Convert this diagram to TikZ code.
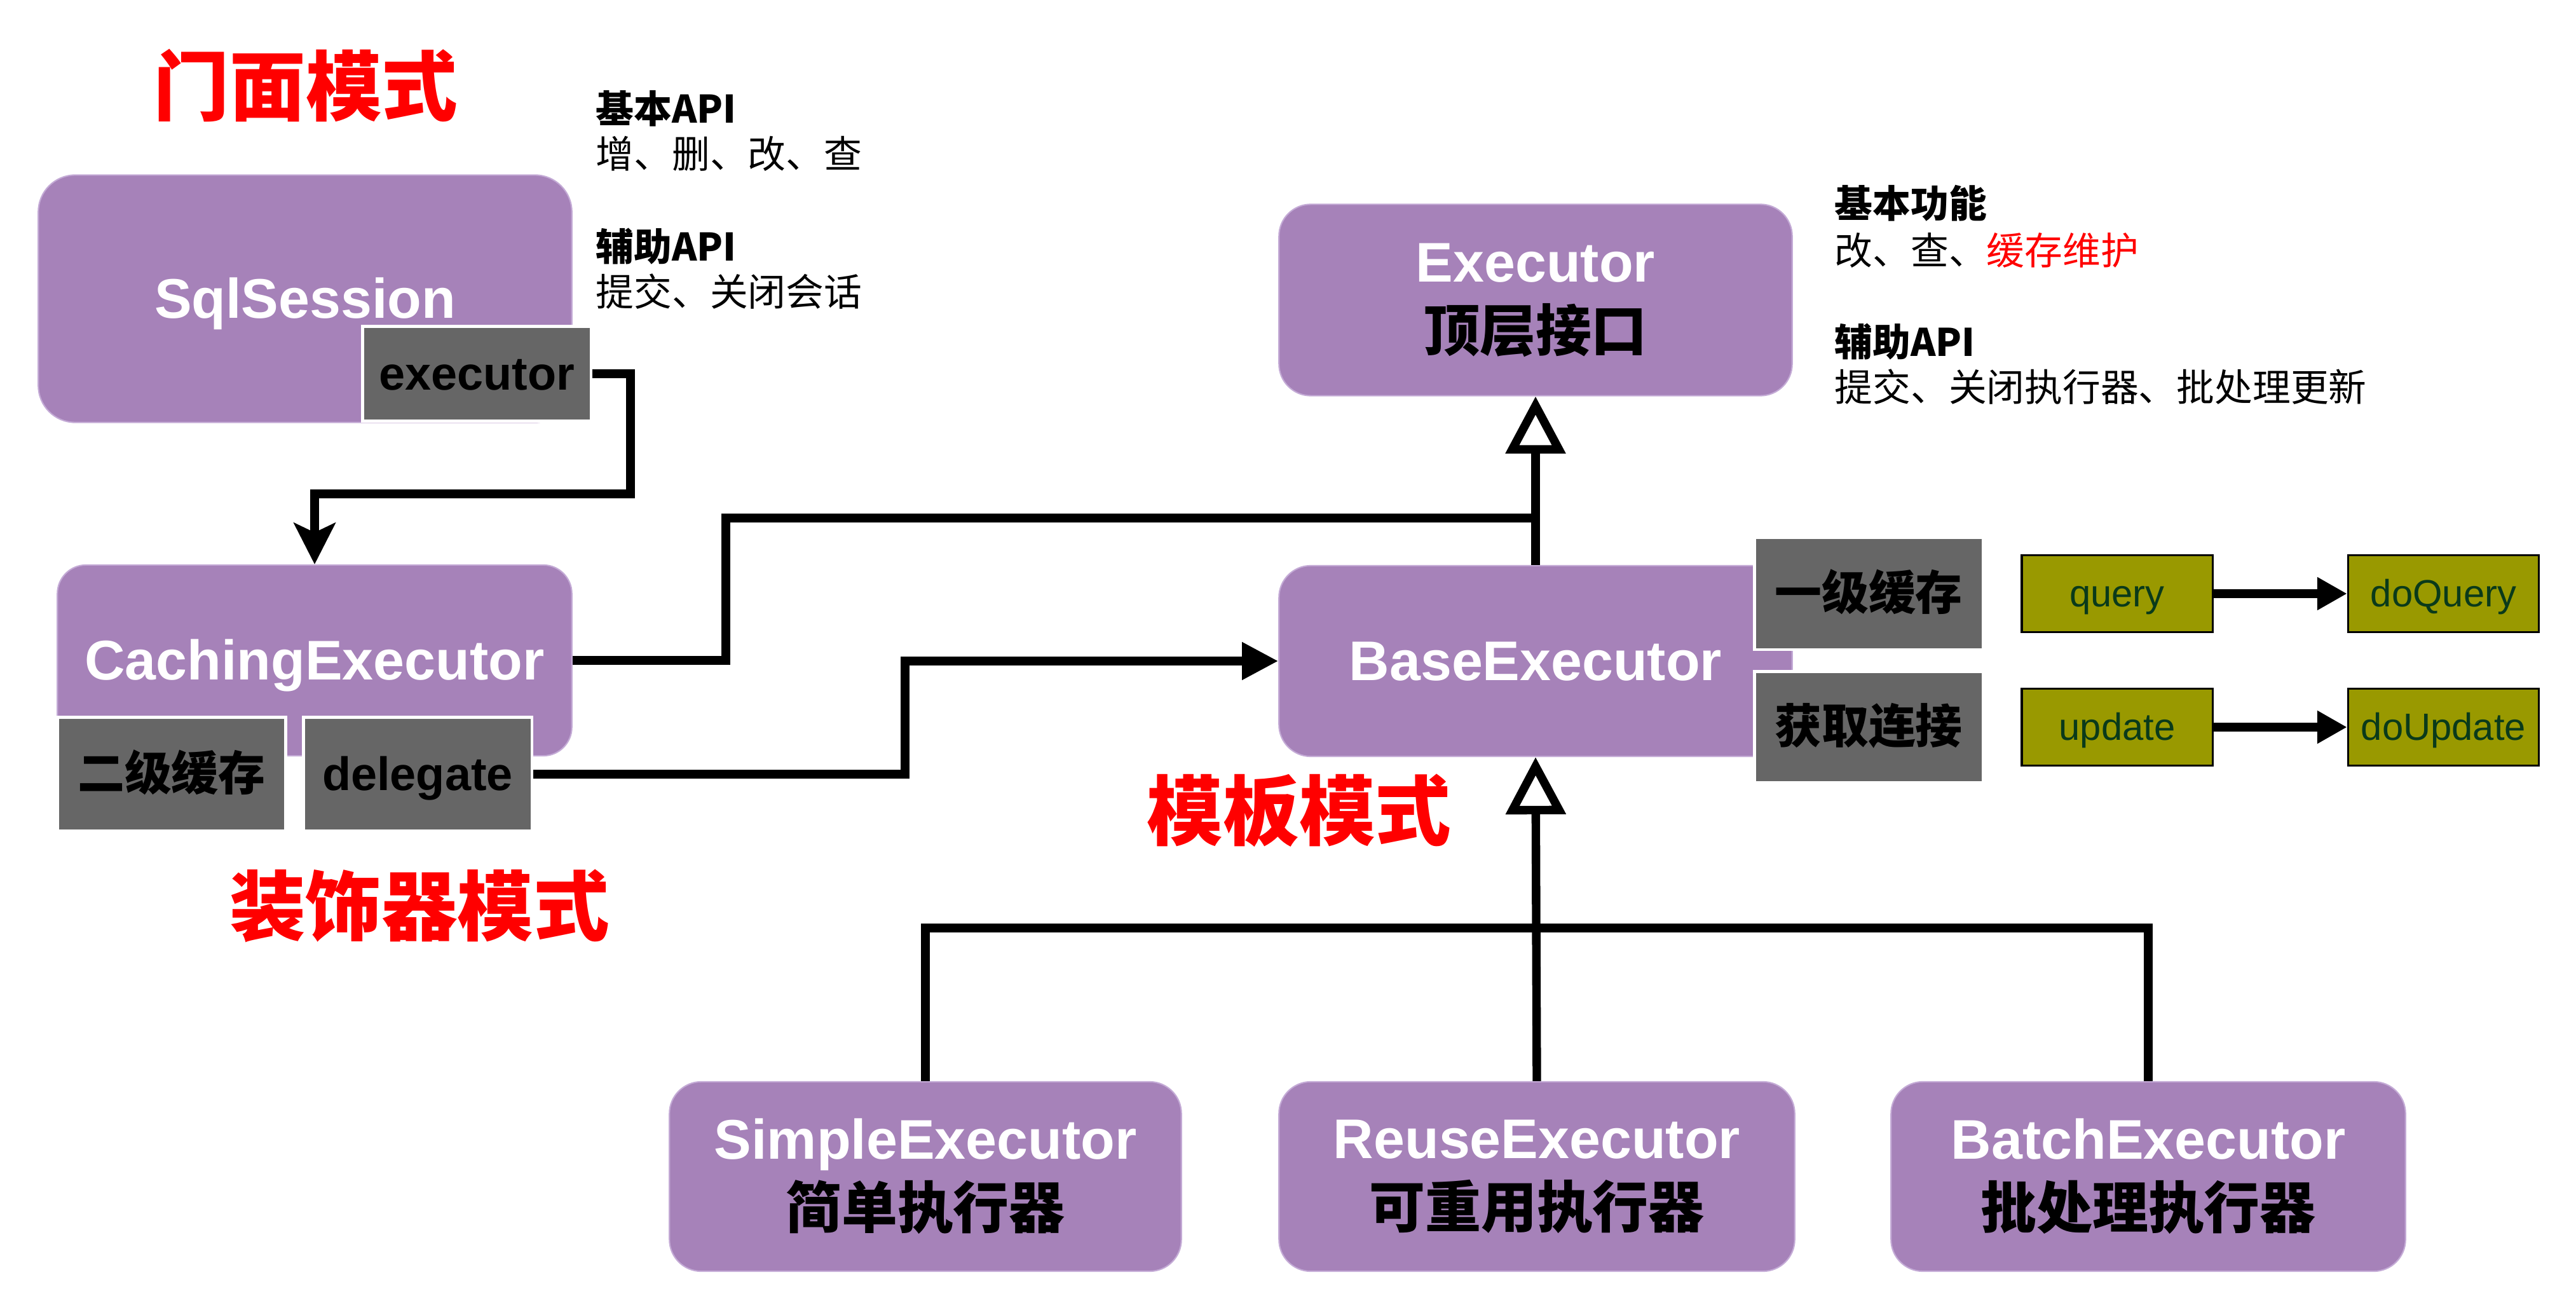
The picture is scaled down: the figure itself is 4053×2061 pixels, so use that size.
\documentclass[tikz,border=0pt]{standalone}
\usepackage{fontspec}
\setmainfont{Liberation Sans}
\newfontfamily\cjk{Noto Sans CJK SC}
\usetikzlibrary{positioning,arrows.meta}
\definecolor{boxpurple}{HTML}{A682B9}
\definecolor{boxedge}{HTML}{C4ABD6}
\definecolor{cachegray}{HTML}{666666}
\definecolor{methodolive}{HTML}{999900}
\definecolor{methodtext}{HTML}{0A3A1A}
\tikzset{
  purple box/.style={
    fill=boxpurple,
    draw=boxedge,
    line width=0.6pt,
    rounded corners=0.5cm,
    minimum width={#1},
    minimum height=3cm,
    align=center,
    text=white,
    font=\fontsize{25}{31}\selectfont\bfseries,
  },
  one line/.style={
    text height=22.5pt,
    text depth=5pt,
  },
  gray box/.style={
    text height=18.9pt,
    text depth=4.2pt,
    fill=cachegray,
    draw=white,
    line width=1.2pt,
    minimum width=3.59cm,
    minimum height={#1},
    font=\fontsize{21}{25}\selectfont\bfseries,
  },
  olive box/.style={
    text height=15.3pt,
    text depth=3.6pt,
    fill=methodolive,
    draw=black,
    line width=0.9pt,
    minimum width=3cm,
    minimum height=1.21cm,
    text=methodtext,
    font=\fontsize{17}{20}\selectfont,
  },
  pattern/.style={
    text=red,
    font=\fontsize{34}{40}\selectfont\cjk\bfseries,
  },
  note/.style={
    anchor=west,
    inner sep=0pt,
    font=\fontsize{17}{20}\selectfont\cjk,
  },
  link/.style={line width=3.8pt},
  flow/.style={link, -{Triangle[length=0.57cm,width=0.56cm]}},
  inherit/.style={link, -{Triangle[open,length=0.9cm,width=0.92cm]}},
}

\begin{document}
\begin{tikzpicture}[x=0.01cm, y=-0.01cm]
        \useasboundingbox (0,0) rectangle (4053,2061);

        % facade
        \node [pattern] (facade) at (481,135) {门面模式};
        \node [purple box=8.39cm, one line, minimum height=3.89cm, rounded corners=0.58cm] (session) at (480,470) {SqlSession};
        \node [gray box=1.49cm] (exec) at (750,588) {executor};
        \node [note, font=\fontsize{17}{20}\selectfont\cjk\bfseries] (sbasic) at (937,171) {基本API};
        \node [note] (scrud) at (937,242) {增、删、改、查};
        \node [note, font=\fontsize{17}{20}\selectfont\cjk\bfseries] (shelp) at (937,388) {辅助API};
        \node [note] (sclose) at (937,459) {提交、关闭会话};

        % decorator
        \node [purple box=8.09cm, one line, rounded corners=0.45cm] (caching) at (495,1039) {CachingExecutor};
        \node [gray box=1.79cm, font=\fontsize{21}{25}\selectfont\cjk\bfseries] (l2cache) at (270,1218) {二级缓存};
        \node [gray box=1.79cm] (delegate) at (657,1218) {delegate};
        \node [pattern] (decorator) at (660,1425) {装饰器模式};

        % interface
        \node [purple box=8.07cm, minimum height=3.01cm] (top) at (2416,472) {Executor\\{\cjk\color{black}顶层接口}};
        \node [note, font=\fontsize{17}{20}\selectfont\cjk\bfseries] (ebasic) at (2886,320) {基本功能};
        \node [note] (ecrud) at (2886,394) {改、查、\textcolor{red}{缓存维护}};
        \node [note, font=\fontsize{17}{20}\selectfont\cjk\bfseries] (ehelp) at (2886,538) {辅助API};
        \node [note] (eclose) at (2886,609) {提交、关闭执行器、批处理更新};

        % template
        \node [purple box=8.07cm, one line] (base) at (2416,1040) {BaseExecutor};
        \node [gray box=1.76cm, font=\fontsize{21}{25}\selectfont\cjk\bfseries] (l1cache) at (2940,934) {一级缓存};
        \node [gray box=1.75cm, font=\fontsize{21}{25}\selectfont\cjk\bfseries] (conn) at (2940,1144) {获取连接};
        \node [olive box] (query) at (3331,934) {query};
        \node [olive box, right=2.1cm of query] (doquery) {doQuery};
        \node [olive box] (update) at (3331,1144) {update};
        \node [olive box, right=2.1cm of update] (doupdate) {doUpdate};
        \node [pattern] (template) at (2044,1275) {模板模式};

        \node [purple box=8.05cm, minimum height=2.98cm, rounded corners=0.5cm] (simple) at (1456,1851) {SimpleExecutor\\{\cjk\color{black}简单执行器}};
        \node [purple box=8.11cm, minimum height=2.98cm, rounded corners=0.5cm] (reuse) at (2418,1851) {ReuseExecutor\\{\cjk\color{black}可重用执行器}};
        \node [purple box=8.09cm, minimum height=2.98cm, rounded corners=0.5cm] (batch) at (3380,1851) {BatchExecutor\\{\cjk\color{black}批处理执行器}};

        % connectors
        \draw [link, -{Stealth[length=0.65cm,width=0.65cm,inset=0.15cm]}] (exec.east) -| (992,777) -| (caching.north);
        \draw [link] (caching.east) -| (1142,815) -- (top.south |- 1142,815);
        \draw [inherit] (base.north) -- (top.south);
        \draw [flow] (delegate.east) -| (1424,1040) -- (base.west);
        \draw [link] (simple.north) |- (2418,1460) -| (batch.north);
        \draw [inherit] (reuse.north) -- (base.south);
        \draw [link, -{Triangle[length=0.47cm,width=0.49cm]}] (query) -- (doquery);
        \draw [link, -{Triangle[length=0.47cm,width=0.49cm]}] (update) -- (doupdate);
      \end{tikzpicture}
\end{document}
